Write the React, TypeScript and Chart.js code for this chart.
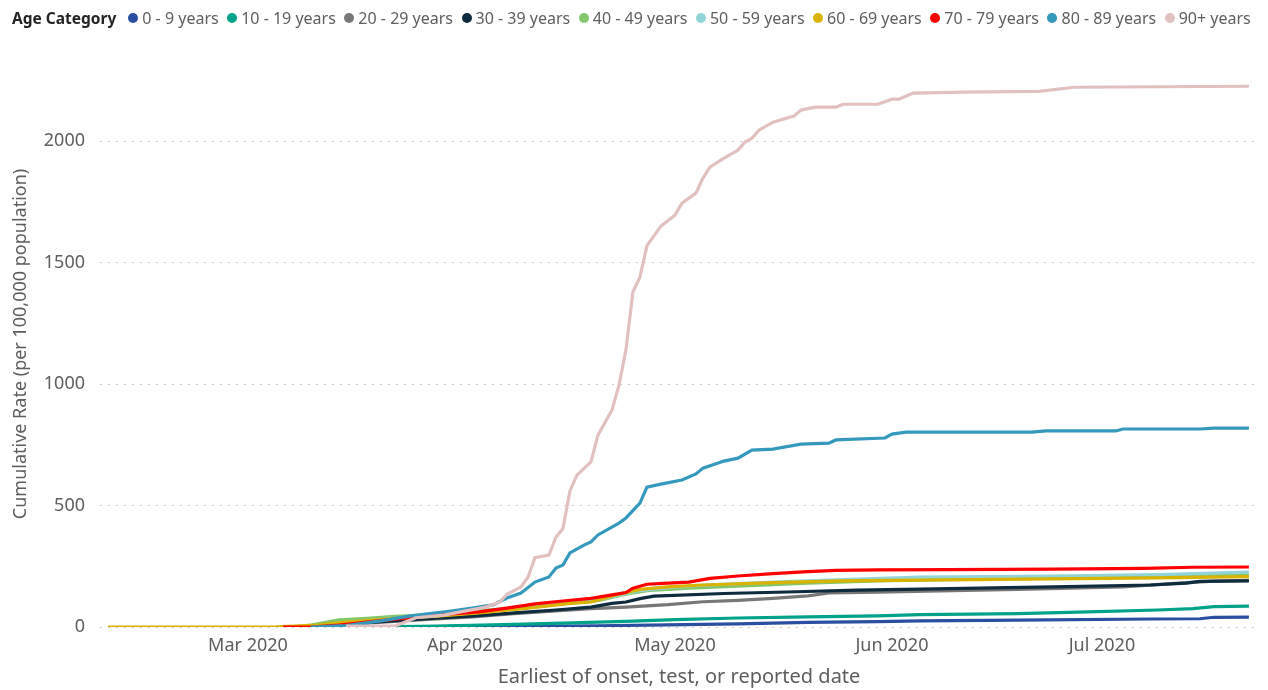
import React, { useEffect, useRef } from "react";
import { Chart, registerables } from "chart.js";

Chart.register(...registerables);

// x values are day offsets counted from 10 Feb 2020
const categories = [
  "0 - 9 years",
  "10 - 19 years",
  "20 - 29 years",
  "30 - 39 years",
  "40 - 49 years",
  "50 - 59 years",
  "60 - 69 years",
  "70 - 79 years",
  "80 - 89 years",
  "90+ years",
];
const seriesColors = [
  "#2A4FA0",
  "#00A38A",
  "#777777",
  "#0E2C3D",
  "#82C86A",
  "#93D4D8",
  "#D9B300",
  "#FF0000",
  "#3499BD",
  "#E2C0C0",
];

const monthTickDays = [20, 51, 81, 112, 142];
const monthTickLabels = ["Mar 2020", "Apr 2020", "May 2020", "Jun 2020", "Jul 2020"];
const yTickValues = [0, 500, 1000, 1500, 2000];

const days0to9 = [32, 50, 60, 70, 80, 90, 100, 110, 116, 130, 149, 156, 158, 163];
const rate0to9 = [0, 1, 3, 5, 9, 13, 19, 22, 25, 28, 33, 34, 40, 41];

const days10to19 = [30, 45, 55, 65, 70, 75, 81, 90, 100, 110, 116, 130, 140, 150, 155, 158, 163];
const rate10to19 = [0, 3, 9, 16, 20, 24, 30, 37, 42, 46, 51, 55, 62, 70, 76, 84, 86];

const days20to29 = [27, 32, 38, 45, 52, 58, 64, 69, 74, 80, 85, 90, 95, 100, 103, 110, 117, 130, 145, 153, 158, 163];
const rate20to29 = [0, 6, 18, 30, 42, 55, 66, 76, 82, 92, 104, 110, 118, 128, 140, 143, 148, 155, 165, 181, 189, 192];

const days30to39 = [27, 32, 38, 45, 52, 58, 64, 69, 72, 74, 76, 78, 88, 97, 107, 116, 135, 149, 154, 156, 163];
const rate30to39 = [0, 8, 20, 33, 45, 58, 70, 82, 97, 103, 117, 127, 138, 144, 152, 156, 165, 173, 181, 188, 190];

const days40to49 = [26, 29, 33, 37, 41, 46, 51, 56, 62, 67, 70, 74, 77, 83, 90, 100, 110, 125, 145, 163];
const rate40to49 = [0, 8, 29, 36, 44, 50, 62, 74, 88, 100, 108, 135, 150, 160, 168, 180, 190, 198, 205, 215];

const days50to59 = [26, 30, 35, 40, 47, 53, 60, 66, 69, 73, 76, 80, 85, 95, 105, 116, 135, 150, 163];
const rate50to59 = [0, 6, 20, 33, 47, 60, 80, 98, 106, 130, 150, 162, 172, 185, 195, 205, 210, 216, 226];

const days60to69 = [0, 24, 30, 34, 40, 47, 53, 60, 66, 69, 73, 76, 80, 85, 95, 105, 116, 135, 150, 163];
const rate60to69 = [0, 1, 8, 20, 33, 45, 58, 78, 97, 103, 135, 155, 165, 173, 183, 190, 193, 198, 202, 207];

const days70to79 = [25, 29, 33, 40, 44, 48, 53, 57, 61, 65, 69, 72, 74, 75, 77, 80, 83, 86, 90, 95, 100, 104, 110, 120, 135, 148, 155, 163];
const rate70to79 = [0, 0, 8, 29, 41, 52, 62, 78, 95, 107, 118, 132, 142, 160, 176, 181, 185, 200, 210, 220, 228, 233, 235, 236, 238, 241, 246, 247];

const days80to89 = [29, 34, 39, 43, 49, 52, 55, 57, 59, 61, 63, 64, 65, 66, 68, 69, 70, 73, 74, 76, 77, 79, 82, 84, 85, 88, 90, 92, 95, 99, 103, 104, 111, 112, 114, 132, 134, 144, 145, 156, 158, 163];
const rate80to89 = [0, 6, 25, 45, 66, 78, 91, 119, 140, 185, 206, 243, 255, 305, 337, 350, 379, 428, 449, 510, 576, 588, 605, 630, 654, 683, 695, 728, 732, 753, 757, 770, 778, 794, 802, 802, 807, 807, 815, 815, 819, 819];

const days90plus = [34, 41, 44, 48, 50, 54, 56, 57, 59, 60, 61, 63, 64, 65, 66, 67, 69, 70, 72, 73, 74, 75, 76, 77, 79, 81, 82, 84, 85, 86, 88, 90, 91, 92, 93, 95, 98, 99, 101, 104, 105, 110, 112, 113, 115, 122, 133, 138, 163];
const rate90plus = [4, 4, 38, 49, 60, 82, 103, 135, 165, 205, 285, 296, 370, 405, 560, 625, 680, 790, 893, 995, 1140, 1380, 1440, 1570, 1650, 1695, 1745, 1786, 1848, 1893, 1930, 1963, 1996, 2012, 2045, 2078, 2103, 2128, 2140, 2140, 2152, 2152, 2173, 2173, 2198, 2202, 2205, 2222, 2226];

const seriesDays = [days0to9, days10to19, days20to29, days30to39, days40to49, days50to59, days60to69, days70to79, days80to89, days90plus];
const seriesRates = [rate0to9, rate10to19, rate20to29, rate30to39, rate40to49, rate50to59, rate60to69, rate70to79, rate80to89, rate90plus];

const FONT = "'Noto Sans', 'Open Sans', sans-serif";
const TEXT = "#605E5C";

export default function App() {
  const canvasRef = useRef<HTMLCanvasElement | null>(null);

  useEffect(() => {
    if (!canvasRef.current) return;
    const datasets = categories.map((name, i) => ({
      label: name,
      data: seriesDays[i].map((d, j) => ({ x: d, y: seriesRates[i][j] })),
      borderColor: seriesColors[i],
      backgroundColor: seriesColors[i],
      borderWidth: 3.2,
      pointRadius: 0,
      tension: 0,
      fill: false,
      order: categories.length - 1 - i,
    }));
    const chart = new Chart(canvasRef.current, {
      type: "line",
      data: { datasets },
      options: {
        animation: false,
        responsive: false,
        maintainAspectRatio: false,
        layout: { padding: { left: 0, right: 10, top: 61, bottom: 0 } },
        plugins: { legend: { display: false }, tooltip: { enabled: false } },
        scales: {
          x: {
            type: "linear",
            min: -1.14,
            max: 164.3,
            grid: { display: false, drawTicks: false },
            border: { display: false },
            afterBuildTicks: (s: any) => {
              s.ticks = monthTickDays.map((v) => ({ value: v }));
            },
            afterFit: (s: any) => {
              s.height = 63;
            },
            ticks: {
              autoSkip: false,
              maxRotation: 0,
              padding: 8,
              color: TEXT,
              font: { family: FONT, size: 18 },
              callback: (v: any) => {
                const k = monthTickDays.indexOf(Number(v));
                return k >= 0 ? monthTickLabels[k] : "";
              },
            },
            title: {
              display: true,
              text: "Earliest of onset, test, or reported date",
              color: TEXT,
              font: { family: FONT, size: 20 },
              padding: { top: 0, bottom: 1 },
            },
          },
          y: {
            min: 0,
            max: 2330,
            grid: { color: "#C8C8C8", lineWidth: 1, drawTicks: false },
            border: { display: false, dash: [2, 6] },
            afterBuildTicks: (s: any) => {
              s.ticks = yTickValues.map((v) => ({ value: v }));
            },
            afterFit: (s: any) => {
              s.width = 100;
            },
            ticks: {
              padding: 15,
              color: TEXT,
              font: { family: FONT, size: 18 },
              callback: (v: any) => String(v),
            },
            title: {
              display: true,
              text: "Cumulative Rate (per 100,000 population)",
              color: TEXT,
              font: { family: FONT, size: 18 },
              padding: { top: 10, bottom: 0 },
            },
          },
        },
      },
    });
    return () => chart.destroy();
  }, []);

  return (
    <div style={{ position: "fixed", left: 0, top: 0, width: 1268, height: 690, background: "#fff" }}>
      <canvas ref={canvasRef} width={1268} height={690} style={{ position: "absolute", left: 0, top: 0, width: 1268, height: 690 }} />
      <div
        style={{
          position: "absolute",
          left: 12,
          top: 7,
          height: 22,
          display: "flex",
          alignItems: "center",
          fontFamily: FONT,
          fontSize: 16,
          whiteSpace: "nowrap",
          color: TEXT,
        }}
      >
        <span style={{ fontWeight: 700, color: "#252423", fontSize: 15.5, marginRight: 12 }}>Age Category</span>
        {categories.map((name, i) => (
          <span key={name} style={{ display: "inline-flex", alignItems: "center", marginRight: 8.5 }}>
            <span
              style={{
                width: 10,
                height: 10,
                borderRadius: 5,
                background: seriesColors[i],
                display: "inline-block",
                marginRight: 4,
              }}
            />
            <span>{name}</span>
          </span>
        ))}
      </div>
    </div>
  );
}
